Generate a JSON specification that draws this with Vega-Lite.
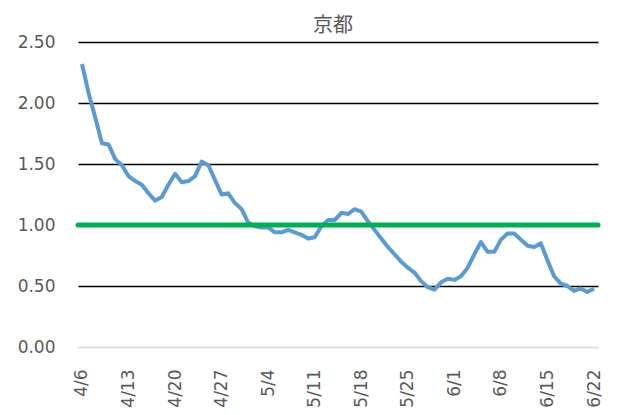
{
  "$schema": "https://vega.github.io/schema/vega-lite/v6.json",
  "autosize": "none",
  "padding": {"left": 78, "top": 42, "right": 41, "bottom": 68},
  "width": 520,
  "height": 305,
  "background": "white",
  "config": {"view": {"stroke": null}},
  "title": {"text": "京都", "font": "Noto Sans CJK JP", "fontSize": 20, "fontWeight": "normal", "color": "#595959", "offset": 6, "dx": -5, "dy": 9},
  "data": {"values": [
    {"date": "2020-04-06", "v": 2.32}, {"date": "2020-04-07", "v": 2.08}, {"date": "2020-04-08", "v": 1.88}, {"date": "2020-04-09", "v": 1.67},
    {"date": "2020-04-10", "v": 1.66}, {"date": "2020-04-11", "v": 1.54}, {"date": "2020-04-12", "v": 1.49}, {"date": "2020-04-13", "v": 1.40},
    {"date": "2020-04-14", "v": 1.36}, {"date": "2020-04-15", "v": 1.33}, {"date": "2020-04-16", "v": 1.26}, {"date": "2020-04-17", "v": 1.20},
    {"date": "2020-04-18", "v": 1.23}, {"date": "2020-04-19", "v": 1.33}, {"date": "2020-04-20", "v": 1.42}, {"date": "2020-04-21", "v": 1.35},
    {"date": "2020-04-22", "v": 1.36}, {"date": "2020-04-23", "v": 1.40}, {"date": "2020-04-24", "v": 1.52}, {"date": "2020-04-25", "v": 1.49},
    {"date": "2020-04-26", "v": 1.37}, {"date": "2020-04-27", "v": 1.25}, {"date": "2020-04-28", "v": 1.26}, {"date": "2020-04-29", "v": 1.18},
    {"date": "2020-04-30", "v": 1.13}, {"date": "2020-05-01", "v": 1.02}, {"date": "2020-05-02", "v": 0.99}, {"date": "2020-05-03", "v": 0.98},
    {"date": "2020-05-04", "v": 0.98}, {"date": "2020-05-05", "v": 0.94}, {"date": "2020-05-06", "v": 0.94}, {"date": "2020-05-07", "v": 0.96},
    {"date": "2020-05-08", "v": 0.94}, {"date": "2020-05-09", "v": 0.92}, {"date": "2020-05-10", "v": 0.89}, {"date": "2020-05-11", "v": 0.90},
    {"date": "2020-05-12", "v": 0.99}, {"date": "2020-05-13", "v": 1.04}, {"date": "2020-05-14", "v": 1.04}, {"date": "2020-05-15", "v": 1.10},
    {"date": "2020-05-16", "v": 1.09}, {"date": "2020-05-17", "v": 1.13}, {"date": "2020-05-18", "v": 1.11}, {"date": "2020-05-19", "v": 1.03},
    {"date": "2020-05-20", "v": 0.96}, {"date": "2020-05-21", "v": 0.89}, {"date": "2020-05-22", "v": 0.82}, {"date": "2020-05-23", "v": 0.76},
    {"date": "2020-05-24", "v": 0.70}, {"date": "2020-05-25", "v": 0.65}, {"date": "2020-05-26", "v": 0.61}, {"date": "2020-05-27", "v": 0.54},
    {"date": "2020-05-28", "v": 0.49}, {"date": "2020-05-29", "v": 0.47}, {"date": "2020-05-30", "v": 0.53}, {"date": "2020-05-31", "v": 0.56},
    {"date": "2020-06-01", "v": 0.55}, {"date": "2020-06-02", "v": 0.58}, {"date": "2020-06-03", "v": 0.65}, {"date": "2020-06-04", "v": 0.76},
    {"date": "2020-06-05", "v": 0.86}, {"date": "2020-06-06", "v": 0.78}, {"date": "2020-06-07", "v": 0.78}, {"date": "2020-06-08", "v": 0.88},
    {"date": "2020-06-09", "v": 0.93}, {"date": "2020-06-10", "v": 0.93}, {"date": "2020-06-11", "v": 0.88}, {"date": "2020-06-12", "v": 0.83},
    {"date": "2020-06-13", "v": 0.82}, {"date": "2020-06-14", "v": 0.85}, {"date": "2020-06-15", "v": 0.71}, {"date": "2020-06-16", "v": 0.58},
    {"date": "2020-06-17", "v": 0.52}, {"date": "2020-06-18", "v": 0.50}, {"date": "2020-06-19", "v": 0.46}, {"date": "2020-06-20", "v": 0.48},
    {"date": "2020-06-21", "v": 0.45}, {"date": "2020-06-22", "v": 0.48}
  ]},
  "layer": [
    {
      "mark": {"type": "line", "color": "#5b9bd5", "strokeWidth": 4, "strokeJoin": "round"},
      "encoding": {
        "x": {
          "field": "date", "type": "temporal",
          "scale": {"type": "utc", "domain": [
            {"year": 2020, "month": 4, "date": 5, "hours": 9, "minutes": 36, "utc": true},
            {"year": 2020, "month": 6, "date": 22, "hours": 14, "minutes": 24, "utc": true}
          ]},
          "axis": {
            "title": null,
            "values": [
              {"year": 2020, "month": 4, "date": 6, "utc": true},
              {"year": 2020, "month": 4, "date": 13, "utc": true},
              {"year": 2020, "month": 4, "date": 20, "utc": true},
              {"year": 2020, "month": 4, "date": 27, "utc": true},
              {"year": 2020, "month": 5, "date": 4, "utc": true},
              {"year": 2020, "month": 5, "date": 11, "utc": true},
              {"year": 2020, "month": 5, "date": 18, "utc": true},
              {"year": 2020, "month": 5, "date": 25, "utc": true},
              {"year": 2020, "month": 6, "date": 1, "utc": true},
              {"year": 2020, "month": 6, "date": 8, "utc": true},
              {"year": 2020, "month": 6, "date": 15, "utc": true},
              {"year": 2020, "month": 6, "date": 22, "utc": true}
            ],
            "labelExpr": "utcFormat(datum.value, '%-m/%-d')",
            "labelAngle": -90,
            "labelAlign": "right",
            "labelBaseline": "middle",
            "labelPadding": 22,
            "labelFont": "DejaVu Sans",
            "labelFontSize": 17,
            "labelColor": "#595959",
            "labelFlush": false,
            "labelOverlap": false,
            "ticks": false,
            "grid": false,
            "domain": true,
            "domainColor": "#d9d9d9",
            "domainWidth": 1
          }
        },
        "y": {
          "field": "v", "type": "quantitative",
          "scale": {"domain": [0, 2.5], "nice": false},
          "axis": {
            "title": null,
            "values": [0, 0.5, 1, 1.5, 2, 2.5],
            "format": ".2f",
            "labelFont": "DejaVu Sans",
            "labelFontSize": 17,
            "labelColor": "#595959",
            "labelPadding": 23,
            "ticks": false,
            "domain": false,
            "grid": true,
            "gridColor": {"condition": {"test": "datum.value === 0", "value": "#d9d9d9"}, "value": "#000000"},
            "gridWidth": 1.3,
            "gridOpacity": 1
          }
        }
      }
    },
    {
      "data": {"values": [{"ref": 1}]},
      "mark": {"type": "rule", "color": "#00b050", "strokeWidth": 5, "strokeCap": "round"},
      "encoding": {"y": {"field": "ref", "type": "quantitative"}}
    }
  ]
}
